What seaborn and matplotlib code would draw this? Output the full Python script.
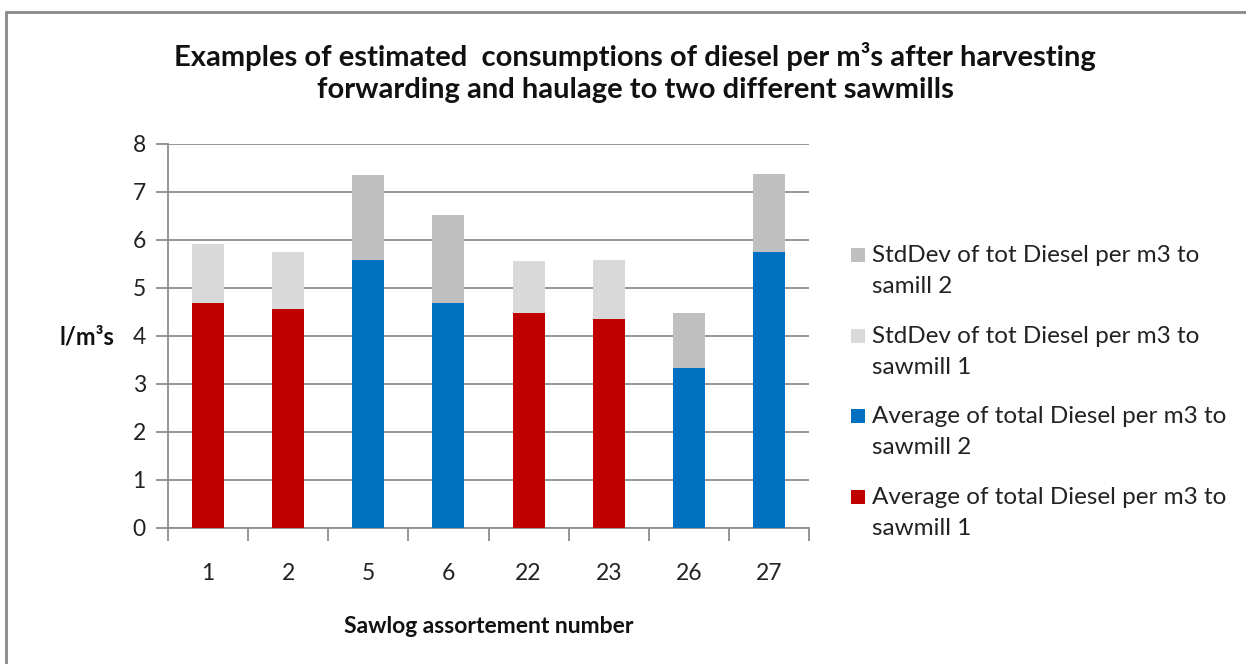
import matplotlib
matplotlib.use("Agg")
import matplotlib.pyplot as plt
import seaborn as sns
import numpy as np
from matplotlib.patches import Rectangle
from matplotlib.lines import Line2D

# ---- data ----
categories = ["1", "2", "5", "6", "22", "23", "26", "27"]
avg_sawmill1 = [4.68, 4.57, 0, 0, 4.48, 4.36, 0, 0]
avg_sawmill2 = [0, 0, 5.59, 4.68, 0, 0, 3.34, 5.75]
std_sawmill1 = [1.23, 1.18, 0, 0, 1.08, 1.23, 0, 0]
std_sawmill2 = [0, 0, 1.76, 1.84, 0, 0, 1.13, 1.63]

labels = [
    "StdDev of tot Diesel per m3 to\nsamill 2",
    "StdDev of tot Diesel per m3 to\nsawmill 1",
    "Average of total Diesel per m3 to\nsawmill 2",
    "Average of total Diesel per m3 to\nsawmill 1",
]
title = ("Examples of estimated  consumptions of diesel per m\u00b3s after harvesting\n"
         "forwarding and haulage to two different sawmills")
ylabel = "l/m\u00b3s"
xlabel = "Sawlog assortement number"

c_std2 = "#BFBFBF"
c_std1 = "#D9D9D9"
c_avg2 = "#0070C0"
c_avg1 = "#C00000"

sns.set_theme(style="white")
plt.rcParams["font.family"] = ["Lato", "DejaVu Sans"]

W, H = 1246, 664
fig = plt.figure(figsize=(W / 100, H / 100), dpi=100)
ax = fig.add_axes([168 / W, 1 - 528 / H, (809 - 168) / W, (528 - 144) / H])

tot1 = np.array(avg_sawmill1) + np.array(std_sawmill1)
tot2 = np.array(avg_sawmill2) + np.array(std_sawmill2)

common = dict(order=categories, width=0.4, linewidth=0, ax=ax, zorder=3, saturation=1)
sns.barplot(x=categories, y=tot1, color=c_std1, **common)
sns.barplot(x=categories, y=tot2, color=c_std2, **common)
sns.barplot(x=categories, y=avg_sawmill1, color=c_avg1, **common)
sns.barplot(x=categories, y=avg_sawmill2, color=c_avg2, **common)

ax.set_ylim(0, 8)
ax.set_xlim(-0.5, len(categories) - 0.5)
ax.set_yticks(range(0, 9))
ax.yaxis.grid(True, color="#8C8C8C", linewidth=1.3, zorder=0)
ax.set_axisbelow(True)
for s in ["top", "right"]:
    ax.spines[s].set_visible(False)
for s in ["left", "bottom"]:
    ax.spines[s].set_color("#8C8C8C")
    ax.spines[s].set_linewidth(1.3)

ax.tick_params(axis="y", which="major", direction="out", length=9, width=1.3,
               color="#8C8C8C", left=True, labelsize=16.5, pad=7, labelcolor="#222222")
ax.tick_params(axis="x", which="major", length=0, labelsize=16.5, pad=25, labelcolor="#222222")
ax.set_xticks(np.arange(-0.5, len(categories)), minor=True)
ax.tick_params(axis="x", which="minor", direction="out", length=9, width=1.3,
               color="#8C8C8C", bottom=True)

ax.set_xlabel(xlabel, fontsize=16.5, fontweight="bold", labelpad=23, color="#111111")
ax.set_ylabel("")
fig.text(87 / W, 1 - 337 / H, ylabel, fontsize=17, fontweight="bold",
         ha="center", va="center", color="#111111")

fig.text(635 / W, 1 - 72.5 / H, title, fontsize=21, fontweight="bold",
         ha="center", va="center", linespacing=1.3, color="#111111")

# legend (square aligned with first line of each wrapped label)
leg_colors = [c_std2, c_std1, c_avg2, c_avg1]
first_line_y = [255, 336, 416, 497]
for col, lab, yy in zip(leg_colors, labels, first_line_y):
    fig.add_artist(Rectangle((851 / W, 1 - (yy + 7) / H), 14 / W, 14 / H,
                             transform=fig.transFigure, facecolor=col, edgecolor="none"))
    fig.text(872 / W, 1 - (yy - 10) / H, lab, fontsize=17.5, ha="left", va="top",
             linespacing=1.6, color="#222222")

# outer chart border
fig.add_artist(Line2D([6 / W, 1.0], [1 - 12 / H, 1 - 12 / H], color="#888888", linewidth=2))
fig.add_artist(Line2D([6 / W, 6 / W], [0, 1 - 12 / H], color="#888888", linewidth=2))

fig.savefig("out.png", dpi=100, facecolor="white")
